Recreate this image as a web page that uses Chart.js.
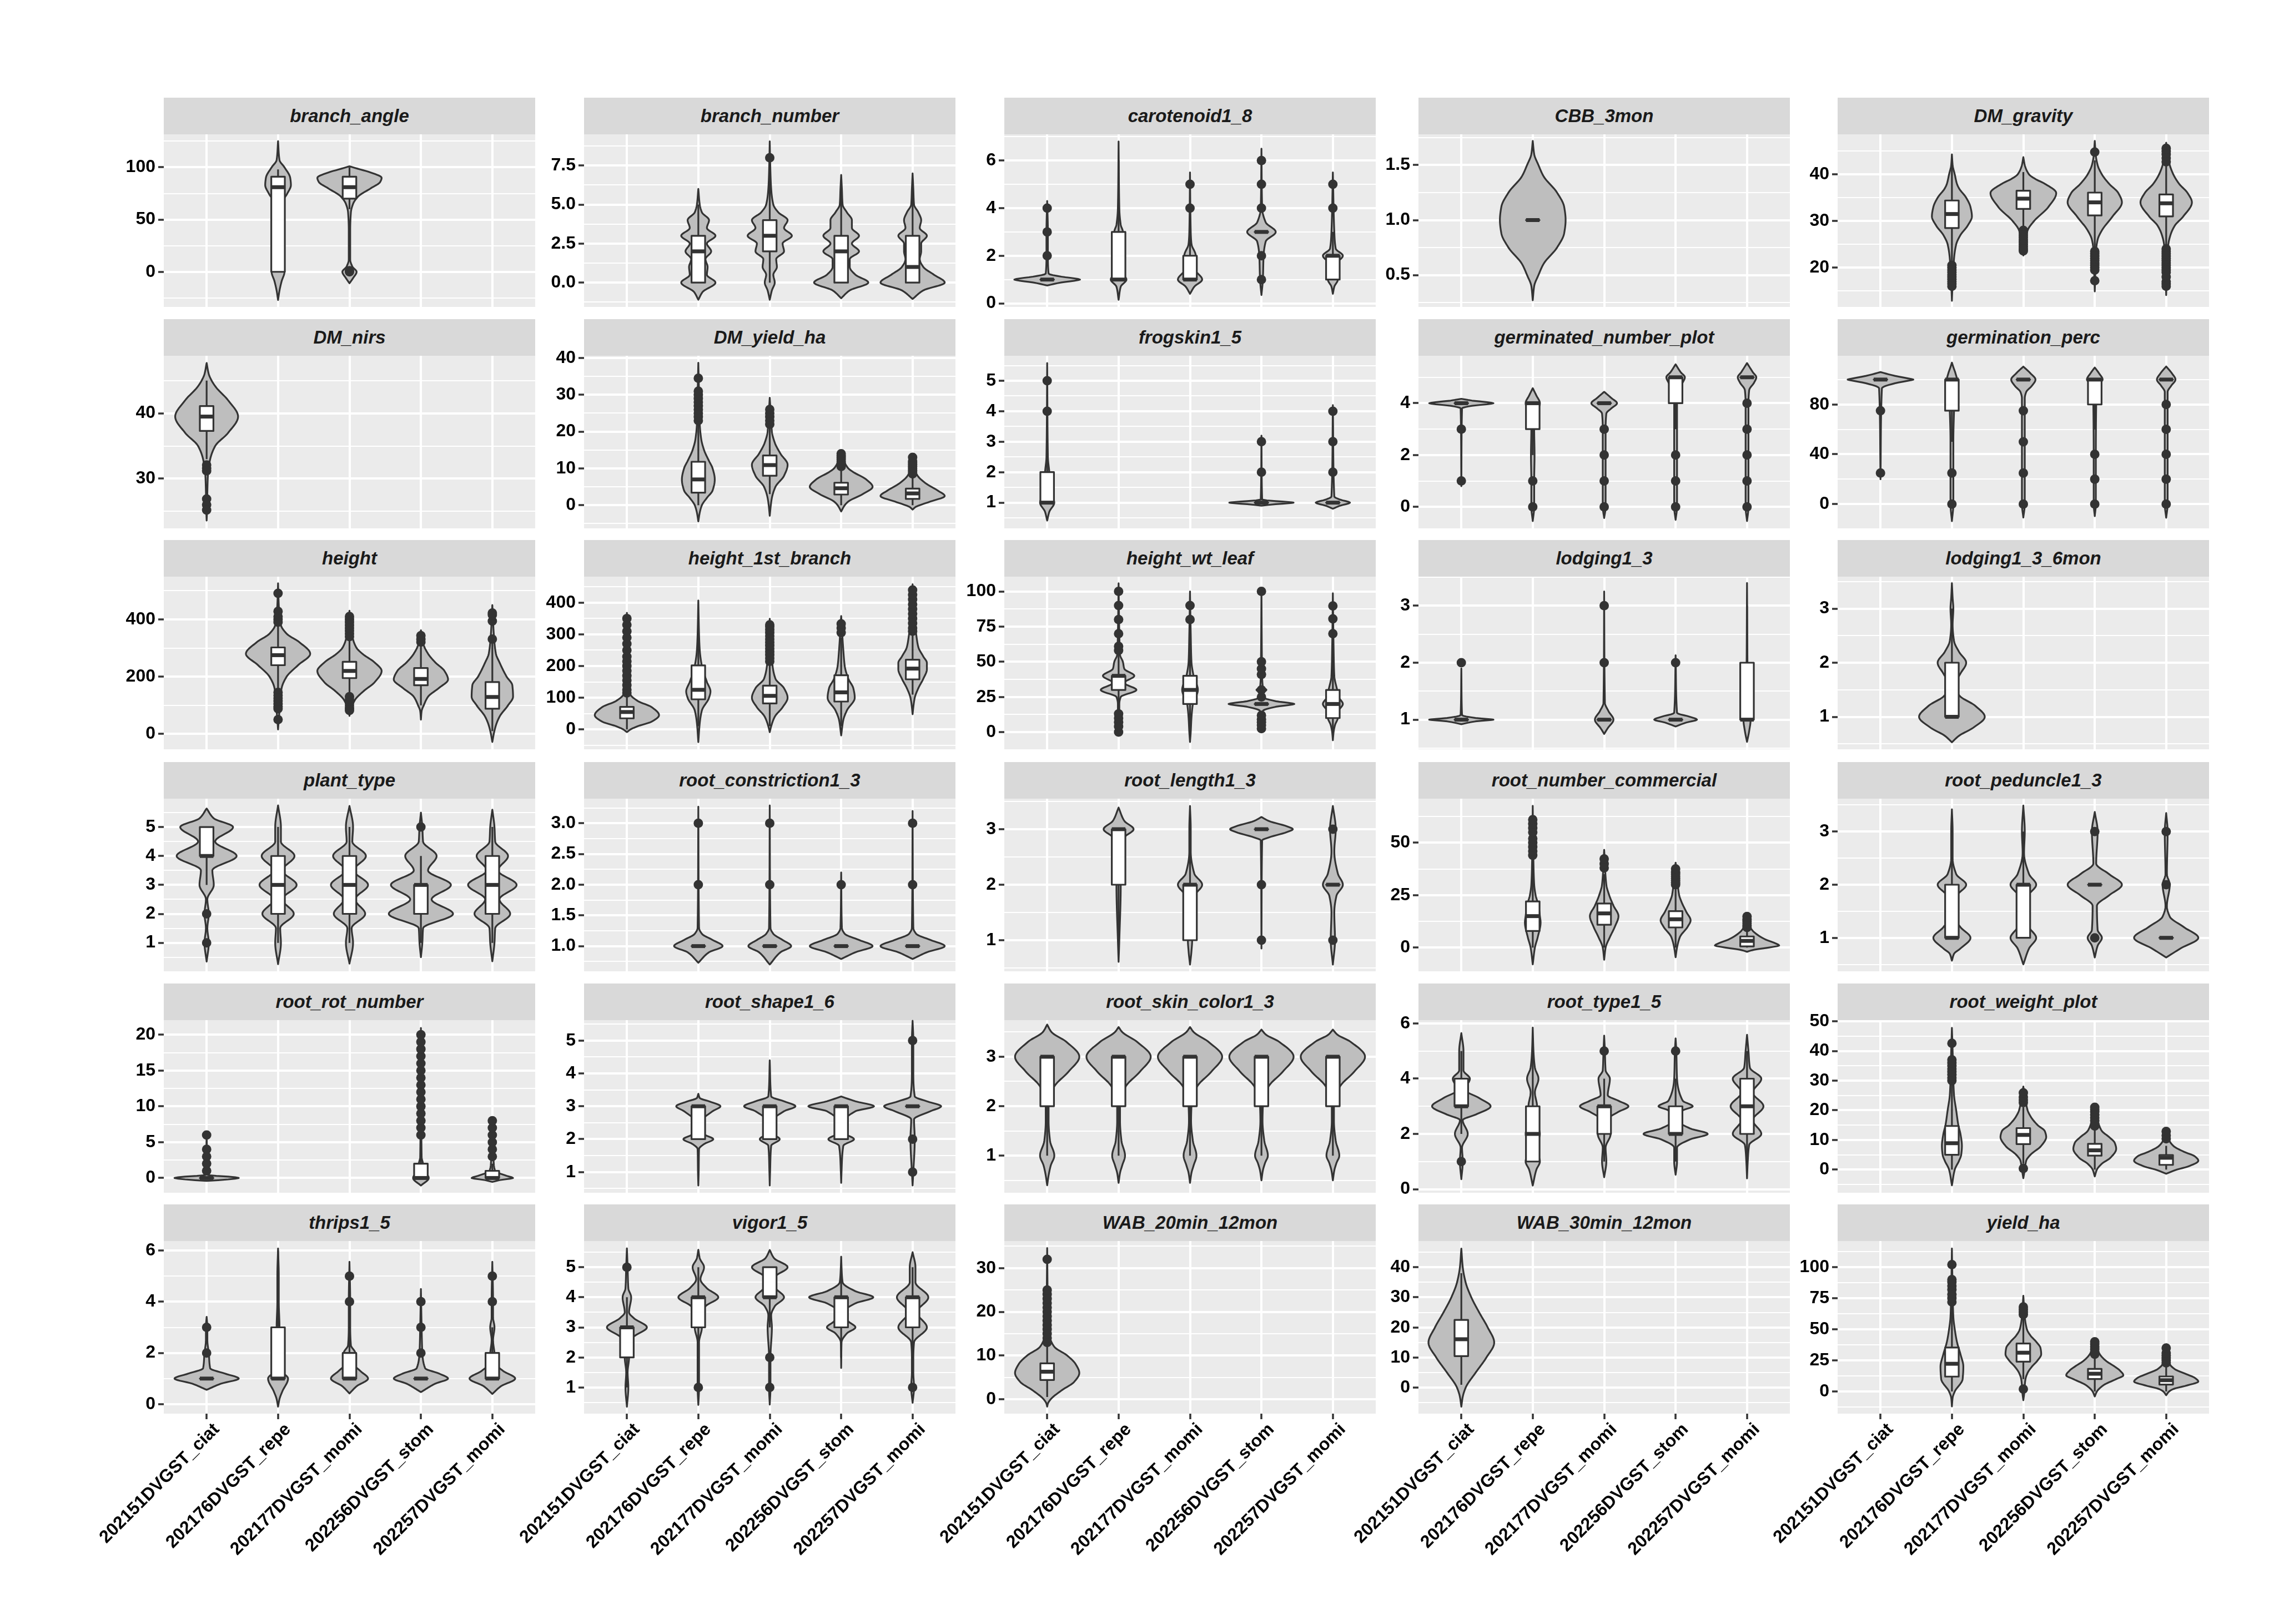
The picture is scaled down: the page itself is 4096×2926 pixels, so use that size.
<!DOCTYPE html>
<html><head><meta charset="utf-8">
<script src="https://cdn.jsdelivr.net/npm/chart.js@4.4.1/dist/chart.umd.min.js"></script>
<style>
html,body{margin:0;padding:0;background:#fff;}
#fig{position:relative;width:4096px;height:2926px;overflow:hidden;background:#fff;}
.strip{position:absolute;background:#D9D9D9;color:#1A1A1A;font:italic bold 33px "Liberation Sans",Arial,sans-serif;display:flex;align-items:center;justify-content:center;white-space:nowrap;}
canvas{position:absolute;}
</style></head><body><div id="fig"></div>
<script>
const categories = ["202151DVGST_ciat","202176DVGST_repe","202177DVGST_momi","202256DVGST_stom","202257DVGST_momi"];
const traits = ["branch_angle","branch_number","carotenoid1_8","CBB_3mon","DM_gravity",
 "DM_nirs","DM_yield_ha","frogskin1_5","germinated_number_plot","germination_perc",
 "height","height_1st_branch","height_wt_leaf","lodging1_3","lodging1_3_6mon",
 "plant_type","root_constriction1_3","root_length1_3","root_number_commercial","root_peduncle1_3",
 "root_rot_number","root_shape1_6","root_skin_color1_3","root_type1_5","root_weight_plot",
 "thrips1_5","vigor1_5","WAB_20min_12mon","WAB_30min_12mon","yield_ha"];
const yLimits = [[-33.6,131.6],[-1.56,9.5],[-0.15,7.1],[0.21,1.78],[11.57,48.6],
 [22.4,48.8],[-6.3,40.6],[0.155,5.82],[-0.83,5.83],[-19.5,119.1],
 [-53.5,549],[-62.6,482],[-12.2,110.5],[0.48,3.51],[0.4,3.59],
 [0.015,5.98],[0.59,3.4],[0.44,3.55],[-11.3,71],[0.37,3.62],
 [-2.06,22.04],[0.37,5.62],[0.25,3.74],[-0.13,6.12],[-7.8,50.4],
 [-0.37,6.37],[0.13,5.87],[-3.3,36.2],[-8.6,48.7],[-17.8,121]];
const yTicks = [[0,50,100],[0,2.5,5,7.5],[0,2,4,6],[0.5,1,1.5],[20,30,40],
 [30,40],[0,10,20,30,40],[1,2,3,4,5],[0,2,4],[0,40,80],
 [0,200,400],[0,100,200,300,400],[0,25,50,75,100],[1,2,3],[1,2,3],
 [1,2,3,4,5],[1,1.5,2,2.5,3],[1,2,3],[0,25,50],[1,2,3],
 [0,5,10,15,20],[1,2,3,4,5],[1,2,3],[0,2,4,6],[0,10,20,30,40,50],
 [0,2,4,6],[1,2,3,4,5],[0,10,20,30],[0,10,20,30,40],[0,25,50,75,100]];
const yTickLabels = [["0","50","100"],["0.0","2.5","5.0","7.5"],["0","2","4","6"],["0.5","1.0","1.5"],["20","30","40"],
 ["30","40"],["0","10","20","30","40"],["1","2","3","4","5"],["0","2","4"],["0","40","80"],
 ["0","200","400"],["0","100","200","300","400"],["0","25","50","75","100"],["1","2","3"],["1","2","3"],
 ["1","2","3","4","5"],["1.0","1.5","2.0","2.5","3.0"],["1","2","3"],["0","25","50"],["1","2","3"],
 ["0","5","10","15","20"],["1","2","3","4","5"],["1","2","3"],["0","2","4","6"],["0","10","20","30","40","50"],
 ["0","2","4","6"],["1","2","3","4","5"],["0","10","20","30"],["0","10","20","30","40"],["0","25","50","75","100"]];

// violin profiles: [value, half-width in category units], bottom to top
const violins = [
 [null,
  [[-27,0],[-18,0.02],[-9,0.05],[0,0.09],[8,0.05],[20,0.025],[35,0.02],[51,0.03],[68,0.07],[75,0.13],[83,0.18],[90,0.17],[100,0.09],[107,0.02],[125,0]],
  [[-11,0],[-6,0.05],[0,0.1],[5,0.04],[12,0.01],[40,0.01],[57,0.02],[65,0.05],[72,0.12],[80,0.3],[86,0.43],[90,0.45],[95,0.3],[98,0.15],[101,0]],
  null,null],
 [null,
  [[-1.1,0],[-0.6,0.06],[0,0.24],[0.5,0.12],[1,0.13],[1.5,0.1],[2,0.18],[2.5,0.12],[3,0.24],[3.5,0.12],[4,0.15],[4.5,0.05],[5,0.02],[6,0]],
  [[-1.1,0],[-0.5,0.03],[0,0.07],[0.5,0.05],[1,0.1],[1.5,0.09],[2,0.2],[2.5,0.18],[3,0.31],[3.5,0.2],[4,0.25],[4.5,0.12],[5,0.05],[6,0.02],[7,0.01],[9.05,0]],
  [[-1,0],[-0.5,0.12],[0,0.38],[0.5,0.2],[1,0.12],[1.5,0.12],[2,0.25],[2.5,0.15],[3,0.25],[3.5,0.15],[4,0.15],[4.5,0.08],[5,0.02],[6,0.01],[6.9,0]],
  [[-1.05,0],[-0.5,0.15],[0,0.45],[0.5,0.3],[1,0.15],[1.5,0.1],[2,0.12],[2.5,0.12],[3,0.2],[3.5,0.1],[4,0.12],[4.5,0.08],[5,0.02],[6,0.01],[7,0]]],
 [[[0.75,0],[0.88,0.2],[0.95,0.38],[1,0.46],[1.05,0.38],[1.12,0.2],[1.25,0.02],[2,0.01],[3,0.01],[4.3,0]],
  [[0.15,0],[0.7,0.03],[1,0.11],[1.3,0.04],[2,0.01],[2.7,0.03],[3,0.06],[3.3,0.03],[4,0.01],[6.8,0]],
  [[0.4,0],[0.7,0.06],[1,0.17],[1.5,0.05],[2,0.08],[2.5,0.02],[3,0.01],[5.5,0]],
  [[0.35,0],[1,0.02],[2,0.03],[2.6,0.06],[3,0.2],[3.4,0.06],[4,0.01],[6.5,0]],
  [[0.4,0],[0.7,0.02],[1,0.07],[1.4,0.04],[1.7,0.06],[2,0.14],[2.3,0.04],[3,0.02],[5.5,0]]],
 [null,
  [[0.27,0],[0.4,0.02],[0.5,0.08],[0.6,0.15],[0.75,0.34],[0.88,0.44],[1,0.46],[1.12,0.44],[1.25,0.34],[1.4,0.15],[1.5,0.08],[1.6,0.02],[1.72,0]],
  null,null,null],
 [null,
  [[12.9,0],[15,0.005],[18,0.015],[22,0.03],[25,0.06],[27,0.12],[29,0.22],[31,0.28],[33,0.26],[35,0.2],[37,0.1],[38,0.07],[40,0.04],[42,0.01],[44.3,0]],
  [[22.6,0],[24,0.01],[26,0.03],[28,0.06],[30,0.15],[33,0.35],[36,0.46],[38,0.3],[39,0.17],[40,0.08],[42,0.02],[43.7,0]],
  [[14.9,0],[20,0.01],[24,0.02],[26,0.04],[28,0.1],[31,0.25],[34,0.38],[36,0.33],[38,0.2],[40,0.1],[42,0.04],[44,0.015],[47.2,0]],
  [[14.1,0],[20,0.01],[25,0.03],[27,0.06],[29,0.12],[31,0.24],[34,0.36],[36,0.3],[38,0.18],[40,0.1],[42,0.05],[44,0.02],[46.8,0]]],
 [[[23.6,0],[25,0.005],[28,0.01],[31,0.02],[33,0.05],[35,0.12],[37,0.3],[39.5,0.44],[42,0.3],[44,0.13],[45,0.07],[46,0.03],[47.7,0]],
  null,null,null,null],
 [null,
  [[-4.4,0],[-2,0.02],[0,0.05],[2,0.12],[4,0.2],[7,0.23],[10,0.2],[12,0.15],[15,0.08],[18,0.04],[22,0.02],[25,0.015],[30,0.01],[38.7,0]],
  [[-2.9,0],[0,0.015],[2,0.03],[5,0.08],[8,0.2],[11,0.25],[14,0.15],[17,0.07],[20,0.03],[23,0.02],[29.2,0]],
  [[-1.7,0],[0,0.05],[1,0.1],[3,0.3],[5,0.44],[7,0.35],[9,0.17],[10,0.1],[12,0.04],[14.8,0]],
  [[-1.2,0],[-0.5,0.04],[0,0.1],[1,0.25],[2.5,0.45],[4,0.35],[6,0.18],[8,0.07],[10,0.02],[13.5,0]]],
 [[[0.41,0],[0.7,0.03],[1,0.1],[1.3,0.05],[1.6,0.04],[2,0.03],[2.5,0.01],[5.58,0]],
  null,null,
  [[0.9,0],[0.95,0.2],[0.98,0.38],[1,0.45],[1.02,0.38],[1.05,0.2],[1.1,0.01],[3.2,0]],
  [[0.8,0],[0.9,0.1],[1,0.24],[1.1,0.1],[1.2,0.02],[4.2,0]]],
 [[[0.8,0],[3.8,0.01],[3.9,0.15],[3.96,0.36],[4,0.45],[4.04,0.36],[4.1,0.15],[4.17,0]],
  [[-0.55,0],[0,0.02],[1,0.02],[2,0.025],[3,0.02],[3.5,0.03],[4,0.1],[4.3,0.05],[4.58,0]],
  [[-0.43,0],[0,0.02],[1,0.02],[2,0.02],[3,0.02],[3.6,0.03],[3.8,0.1],[4,0.18],[4.2,0.1],[4.44,0]],
  [[-0.5,0],[0,0.02],[1,0.02],[2,0.02],[3,0.02],[4,0.02],[4.5,0.04],[4.8,0.1],[5,0.13],[5.2,0.07],[5.5,0]],
  [[-0.55,0],[0,0.02],[1,0.02],[2,0.02],[3,0.02],[4,0.02],[4.5,0.03],[4.8,0.1],[5,0.13],[5.2,0.08],[5.55,0]]],
 [[[20,0],[93,0.02],[97,0.2],[99,0.38],[100,0.46],[101,0.38],[103,0.2],[106,0]],
  [[-13.7,0],[0,0.02],[25,0.02],[50,0.02],[75,0.03],[95,0.05],[100,0.07],[105,0.05],[110,0.02],[113.6,0]],
  [[-10.8,0],[0,0.02],[50,0.02],[85,0.02],[90,0.04],[95,0.12],[100,0.17],[105,0.1],[110.4,0]],
  [[-9.7,0],[0,0.015],[40,0.015],[80,0.02],[95,0.03],[100,0.11],[105,0.06],[109.7,0]],
  [[-11,0],[0,0.02],[60,0.02],[90,0.02],[95,0.07],[100,0.13],[105,0.08],[110.5,0]]],
 [null,
  [[15.7,0],[50,0.01],[80,0.02],[120,0.03],[160,0.05],[200,0.12],[240,0.28],[280,0.45],[320,0.3],[350,0.12],[380,0.04],[420,0.02],[450,0.01],[526,0]],
  [[63,0],[80,0.01],[100,0.04],[120,0.08],[150,0.2],[180,0.35],[220,0.45],[250,0.35],[280,0.18],[300,0.1],[330,0.05],[370,0.02],[430,0]],
  [[50,0],[80,0.01],[100,0.04],[130,0.1],[160,0.25],[190,0.38],[220,0.33],[250,0.2],[280,0.1],[310,0.04],[362,0]],
  [[-28,0],[0,0.02],[30,0.05],[60,0.1],[100,0.22],[130,0.29],[170,0.28],[200,0.2],[250,0.1],[280,0.05],[350,0.02],[450,0]]],
 [[[-8.5,0],[0,0.05],[10,0.15],[25,0.35],[45,0.45],[70,0.35],[90,0.15],[110,0.05],[140,0.02],[200,0.01],[368,0]],
  [[-40,0],[20,0.02],[60,0.05],[100,0.15],[120,0.17],[150,0.12],[200,0.05],[250,0.02],[300,0.01],[407,0]],
  [[-8.5,0],[10,0.02],[40,0.07],[70,0.18],[100,0.25],[130,0.2],[160,0.08],[200,0.04],[260,0.02],[349,0]],
  [[-19,0],[30,0.03],[60,0.08],[100,0.19],[130,0.17],[160,0.1],[200,0.05],[250,0.03],[358,0]],
  [[48,0],[70,0.01],[100,0.03],[130,0.08],[160,0.15],[190,0.2],[210,0.2],[230,0.15],[260,0.08],[300,0.05],[350,0.02],[458,0]]],
 [null,
  [[-0.6,0],[10,0.01],[20,0.01],[25,0.03],[30,0.25],[35,0.08],[40,0.22],[45,0.08],[50,0.06],[55,0.02],[70,0.01],[105.8,0]],
  [[-7,0],[0,0.01],[10,0.02],[20,0.04],[30,0.11],[40,0.05],[50,0.02],[70,0.01],[100,0]],
  [[0,0],[10,0.01],[15,0.02],[18,0.2],[19.2,0.38],[20,0.46],[20.8,0.38],[22,0.2],[25,0.02],[28,0.02],[30,0.07],[32,0.02],[40,0.01],[100,0]],
  [[-5.8,0],[0,0.01],[5,0.03],[10,0.07],[15,0.08],[20,0.14],[25,0.08],[30,0.06],[40,0.02],[60,0.01],[98.7,0]]],
 [[[0.92,0],[0.97,0.2],[0.99,0.38],[1,0.45],[1.01,0.38],[1.03,0.2],[1.08,0.01],[1.9,0]],
  null,
  [[0.75,0],[0.85,0.05],[1,0.13],[1.15,0.06],[1.3,0.01],[3.25,0]],
  [[0.88,0],[0.95,0.15],[1,0.3],[1.05,0.2],[1.12,0.02],[2.13,0]],
  [[0.61,0],[0.8,0.03],[1,0.05],[1.1,0.03],[1.5,0.01],[3.4,0]]],
 [null,
  [[0.53,0],[0.65,0.1],[0.8,0.3],[1,0.46],[1.2,0.33],[1.4,0.1],[1.6,0.04],[1.8,0.12],[2,0.2],[2.2,0.1],[2.4,0.03],[2.7,0.01],[3,0.02],[3.2,0.01],[3.47,0]],
  null,null,null],
 [[[0.35,0],[1,0.03],[1.5,0.01],[2,0.03],[2.5,0.01],[3,0.1],[3.5,0.08],[4,0.42],[4.5,0.12],[5,0.37],[5.3,0.1],[5.64,0]],
  [[0.26,0],[1,0.04],[1.5,0.03],[2,0.22],[2.5,0.06],[3,0.26],[3.5,0.06],[4,0.23],[4.5,0.04],[5,0.04],[5.75,0]],
  [[0.28,0],[1,0.05],[1.5,0.03],[2,0.22],[2.5,0.08],[3,0.26],[3.5,0.06],[4,0.23],[4.5,0.04],[5,0.05],[5.73,0]],
  [[0.5,0],[1,0.02],[1.5,0.03],[2,0.45],[2.5,0.15],[3,0.42],[3.5,0.1],[4,0.22],[4.5,0.03],[5,0.02],[5.5,0]],
  [[0.36,0],[1,0.03],[1.5,0.04],[2,0.25],[2.5,0.1],[3,0.34],[3.5,0.08],[4,0.22],[4.5,0.04],[5,0.03],[5.6,0]]],
 [null,
  [[0.73,0],[0.9,0.15],[1,0.34],[1.1,0.2],[1.2,0.05],[1.3,0.01],[3.27,0]],
  [[0.7,0],[0.9,0.15],[1,0.3],[1.1,0.18],[1.2,0.05],[1.3,0.01],[3.29,0]],
  [[0.79,0],[0.9,0.2],[1,0.44],[1.1,0.25],[1.2,0.05],[1.3,0.01],[2.2,0]],
  [[0.79,0],[0.9,0.2],[1,0.45],[1.1,0.25],[1.2,0.05],[1.3,0.01],[3.2,0]]],
 [null,
  [[0.61,0],[1,0.01],[2,0.03],[2.5,0.02],[2.85,0.08],[3,0.21],[3.15,0.08],[3.39,0]],
  [[0.56,0],[0.8,0.02],[1,0.03],[1.5,0.01],[1.8,0.06],[2,0.17],[2.2,0.06],[2.6,0.01],[3,0.01],[3.42,0]],
  [[0.85,0],[2.8,0.01],[2.85,0.1],[2.95,0.36],[3,0.44],[3.05,0.36],[3.15,0.1],[3.22,0]],
  [[0.56,0],[1,0.03],[1.5,0.02],[1.8,0.05],[2,0.14],[2.2,0.07],[2.6,0.02],[3,0.04],[3.42,0]]],
 [null,
  [[-8,0],[0,0.03],[5,0.07],[12,0.11],[15,0.1],[20,0.08],[25,0.04],[30,0.02],[40,0.01],[67.6,0]],
  [[-5.8,0],[0,0.02],[5,0.08],[10,0.15],[15,0.2],[20,0.13],[25,0.07],[30,0.03],[46.6,0]],
  [[-4.6,0],[0,0.02],[5,0.06],[10,0.17],[13,0.21],[17,0.15],[22,0.08],[25,0.05],[30,0.03],[40.5,0]],
  [[-2,0],[-1,0.1],[0,0.3],[1,0.45],[2,0.4],[4,0.25],[6,0.15],[8,0.08],[10,0.04],[16,0]]],
 [null,
  [[0.57,0],[0.7,0.03],[0.8,0.12],[1,0.26],[1.2,0.12],[1.4,0.02],[1.6,0.01],[1.8,0.07],[2,0.2],[2.2,0.06],[2.5,0.01],[3,0.01],[3.42,0]],
  [[0.5,0],[0.8,0.08],[1,0.18],[1.2,0.08],[1.5,0.01],[1.8,0.07],[2,0.18],[2.2,0.08],[2.6,0.01],[3,0.02],[3.49,0]],
  [[0.63,0],[0.85,0.04],[1,0.1],[1.15,0.04],[1.6,0.03],[1.8,0.2],[2,0.38],[2.2,0.2],[2.4,0.02],[3,0.04],[3.37,0]],
  [[0.63,0],[0.8,0.2],[1,0.45],[1.2,0.25],[1.4,0.05],[1.6,0.01],[2,0.05],[2.2,0.01],[3,0.02],[3.35,0]]],
 [[[-0.4,0],[-0.2,0.3],[0,0.45],[0.2,0.3],[0.4,0.02],[1,0.01],[6.5,0]],
  null,null,
  [[-1.06,0],[0,0.11],[1,0.05],[2,0.03],[3,0.01],[20.95,0]],
  [[-0.55,0],[-0.3,0.1],[0,0.29],[0.3,0.2],[1,0.04],[2,0.02],[8.5,0]]],
 [null,
  [[0.59,0],[1,0.005],[1.7,0.01],[1.85,0.08],[2,0.21],[2.15,0.08],[2.5,0.03],[2.85,0.2],[3,0.31],[3.15,0.15],[3.25,0.02],[3.38,0]],
  [[0.59,0],[1,0.005],[1.8,0.02],[2,0.14],[2.2,0.02],[2.5,0.02],[2.85,0.2],[3,0.36],[3.15,0.2],[3.3,0.02],[4.4,0]],
  [[0.67,0],[1,0.005],[1.8,0.03],[2,0.18],[2.2,0.03],[2.5,0.03],[2.85,0.2],[3,0.46],[3.15,0.2],[3.3,0]],
  [[0.59,0],[1,0.01],[2,0.03],[2.6,0.02],[2.85,0.25],[3,0.4],[3.15,0.2],[3.3,0.03],[4,0.01],[5,0.01],[5.6,0]]],
 [[[0.4,0],[0.6,0.02],[0.8,0.05],[1,0.1],[1.3,0.04],[1.7,0.02],[2,0.02],[2.2,0.04],[2.4,0.1],[2.7,0.3],[3,0.45],[3.3,0.27],[3.5,0.06],[3.65,0]],
  [[0.45,0],[0.65,0.02],[0.8,0.05],[1,0.09],[1.3,0.04],[1.7,0.02],[2,0.02],[2.2,0.04],[2.4,0.1],[2.7,0.3],[3,0.45],[3.3,0.26],[3.5,0.05],[3.6,0]],
  [[0.45,0],[0.65,0.02],[0.8,0.05],[1,0.09],[1.3,0.04],[1.7,0.015],[2,0.02],[2.2,0.04],[2.4,0.1],[2.7,0.3],[3,0.45],[3.3,0.26],[3.5,0.05],[3.6,0]],
  [[0.5,0],[0.7,0.02],[0.85,0.05],[1,0.09],[1.3,0.04],[1.7,0.015],[2,0.02],[2.2,0.04],[2.4,0.1],[2.7,0.3],[3,0.45],[3.3,0.25],[3.45,0.06],[3.55,0]],
  [[0.5,0],[0.7,0.02],[0.85,0.05],[1,0.09],[1.3,0.04],[1.7,0.015],[2,0.015],[2.2,0.04],[2.4,0.1],[2.7,0.3],[3,0.45],[3.3,0.25],[3.45,0.06],[3.55,0]]],
 [[[0.36,0],[1,0.02],[1.5,0.01],[2,0.09],[2.5,0.02],[2.7,0.2],[3,0.41],[3.3,0.25],[3.6,0.05],[4,0.12],[4.3,0.03],[5,0.03],[5.65,0]],
  [[0.13,0],[0.7,0.05],[1,0.1],[1.5,0.04],[2,0.1],[2.5,0.04],[3,0.06],[3.5,0.03],[4,0.08],[4.4,0.03],[5,0.01],[5.85,0]],
  [[0.43,0],[1,0.03],[1.5,0.02],[2,0.09],[2.5,0.04],[2.8,0.2],[3,0.34],[3.2,0.2],[3.4,0.05],[4,0.08],[4.3,0.02],[5,0.01],[5.56,0]],
  [[0.52,0],[1,0.02],[1.5,0.02],[1.8,0.2],[2,0.45],[2.2,0.2],[2.5,0.03],[2.85,0.1],[3,0.24],[3.2,0.1],[4,0.02],[5,0.01],[5.46,0]],
  [[0.39,0],[1,0.01],[1.6,0.03],[2,0.2],[2.5,0.08],[3,0.23],[3.5,0.08],[4,0.2],[4.4,0.04],[5,0.02],[5.59,0]]],
 [null,
  [[-5.3,0],[0,0.04],[3,0.1],[5,0.13],[8,0.14],[12,0.12],[15,0.09],[20,0.06],[25,0.03],[30,0.02],[40,0.01],[47.8,0]],
  [[-2.9,0],[0,0.02],[3,0.04],[5,0.1],[8,0.25],[11,0.32],[13,0.3],[15,0.2],[18,0.1],[20,0.06],[25,0.02],[28,0]],
  [[-2.3,0],[0,0.03],[2,0.1],[4,0.22],[7,0.3],[9,0.28],[11,0.2],[13,0.1],[15,0.06],[18,0.02],[22,0]],
  [[-1.4,0],[0,0.15],[1,0.3],[3,0.45],[4.5,0.4],[6,0.25],[8,0.1],[10,0.04],[14,0]]],
 [[[0.56,0],[0.8,0.2],[1,0.45],[1.2,0.25],[1.4,0.05],[2,0.03],[2.5,0.01],[3,0.01],[3.41,0]],
  [[-0.1,0],[0.2,0.02],[0.5,0.06],[1,0.14],[1.3,0.05],[2,0.02],[3,0.02],[4,0.01],[5,0.01],[6.08,0]],
  [[0.42,0],[0.7,0.1],[1,0.26],[1.3,0.15],[1.6,0.05],[2,0.08],[2.3,0.02],[3,0.01],[4,0.01],[5.56,0]],
  [[0.47,0],[0.8,0.2],[1,0.38],[1.2,0.25],[1.4,0.06],[2,0.02],[3,0.01],[4.5,0]],
  [[0.4,0],[0.7,0.12],[1,0.32],[1.3,0.15],[1.6,0.04],[2,0.03],[2.5,0.01],[3,0.03],[3.4,0.01],[4,0.01],[5.56,0]]],
 [[[0.36,0],[1,0.02],[1.5,0.01],[2,0.03],[2.5,0.02],[2.7,0.1],[3,0.28],[3.3,0.1],[3.5,0.03],[4,0.06],[4.3,0.02],[5,0.01],[5.63,0]],
  [[0.42,0],[1,0.01],[2,0.01],[2.5,0.01],[3,0.05],[3.4,0.03],[3.7,0.1],[4,0.28],[4.3,0.12],[4.6,0.03],[5,0.08],[5.3,0.02],[5.58,0]],
  [[0.43,0],[1,0.01],[2,0.01],[3,0.03],[3.4,0.02],[3.7,0.07],[4,0.2],[4.3,0.08],[4.5,0.03],[4.7,0.08],[5,0.25],[5.3,0.06],[5.57,0]],
  [[1.65,0],[2.5,0.005],[2.8,0.08],[3,0.2],[3.2,0.1],[3.5,0.03],[3.8,0.2],[4,0.45],[4.2,0.2],[4.5,0.02],[5,0.005],[5.35,0]],
  [[0.49,0],[1,0.02],[1.5,0.01],[2,0.01],[2.5,0.02],[3,0.2],[3.5,0.06],[4,0.22],[4.5,0.04],[5,0.04],[5.5,0]]],
 [[[-1.7,0],[-1,0.01],[0,0.05],[2,0.2],[4,0.38],[6,0.45],[8,0.4],[10,0.28],[12,0.1],[14,0.04],[16,0.02],[20,0.01],[34.6,0]],
  null,null,null,null],
 [[[-6.3,0],[-3,0.02],[0,0.06],[5,0.2],[10,0.35],[15,0.46],[20,0.37],[25,0.25],[30,0.14],[35,0.06],[40,0.02],[46.2,0]],
  null,null,null,null],
 [null,
  [[-12,0],[-5,0.01],[0,0.04],[10,0.15],[20,0.16],[30,0.12],[40,0.07],[50,0.04],[60,0.02],[80,0.01],[115,0]],
  [[-7,0],[0,0.015],[5,0.02],[10,0.03],[15,0.06],[20,0.12],[25,0.2],[30,0.25],[35,0.24],[40,0.18],[45,0.1],[50,0.05],[60,0.02],[77,0]],
  [[-4,0],[0,0.03],[5,0.12],[10,0.3],[13,0.4],[17,0.35],[20,0.28],[25,0.15],[30,0.07],[35,0.03],[42,0]],
  [[-3,0],[0,0.04],[2,0.1],[5,0.3],[8,0.45],[11,0.4],[14,0.28],[18,0.12],[22,0.05],[30,0.01],[38,0]]]
];

// box stats: [lower whisker, q1, median, q3, upper whisker]
const boxStats = [
 [null,[0,0,81,91,98],[60,70,81,91,100],null,null],
 [null,[0,0,2,3,5],[0,2,3,4,7],[0,0,2,3,6],[0,0,1,3,6]],
 [[1,1,1,1,1],[1,1,1,3,6],[1,1,1,2,3],[3,3,3,3,3],[1,1,2,2,3]],
 [null,[1,1,1,1,1],null,null,null],
 [null,[21,28.5,31.5,34.4,43],[28.5,32.6,34.8,36.5,40.5],[24,31.2,34,36.1,43],[24,31,33.8,35.7,42]],
 [[33,37.3,39.5,41.1,45],null,null,null,null],
 [null,[0,3.4,7,11.8,23],[3,8,10.9,13.5,21],[0,2.9,4.6,6.1,10],[0,1.7,3.2,4.5,8]],
 [[1,1,1,2,3],null,null,[1,1,1,1,1],[1,1,1,1,1]],
 [[4,4,4,4,4],[2,3,4,4,4],[4,4,4,4,4],[3,4,5,5,5],[5,5,5,5,5]],
 [[100,100,100,100,100],[50,75,100,100,100],[100,100,100,100,100],[60,80,100,100,100],[100,100,100,100,100]],
 [null,[150,240,275,302,380],[140,195,220,252,335],[100,170,192,230,310],[10,88,129,181,320]],
 [[0,35,55,71,105],[10,95,125,202,355],[10,82,106,138,205],[10,88,117,171,290],[110,158,192,220,300]],
 [null,[15,30,40,40,55],[0,20,30,40,70],[20,20,20,20,20],[0,10,20,30,55]],
 [[1,1,1,1,1],null,[1,1,1,1,1],[1,1,1,1,1],[1,1,1,2,3]],
 [null,[1,1,1,2,3],null,null,null],
 [[3,4,4,5,5],[1,2,3,4,5],[1,2,3,4,5],[1,2,3,3,4],[1,2,3,4,5]],
 [null,[1,1,1,1,1],[1,1,1,1,1],[1,1,1,1,1],[1,1,1,1,1]],
 [null,[1,2,3,3,3],[1,1,2,2,3],[3,3,3,3,3],[2,2,2,2,2]],
 [null,[0,7.9,15,22,43],[0,10.9,16.3,21,35],[0,9.6,13.5,17.4,29],[0,0.6,3.2,5.3,9]],
 [null,[1,1,1,2,3],[1,1,2,2,3],[2,2,2,2,2],[1,1,1,1,1]],
 [[0,0,0,0,0],null,null,[0,0,0,2,5],[0,0,0,1,2]],
 [null,[2,2,3,3,3],[2,2,3,3,3],[2,2,3,3,3],[3,3,3,3,3]],
 [[1,2,3,3,3],[1,2,3,3,3],[1,2,3,3,3],[1,2,3,3,3],[1,2,3,3,3]],
 [[2,3,3,4,5],[1,1,2,3,5],[1,2,3,3,4],[1,2,2,3,4],[1,2,3,4,5]],
 [null,[0,5,8.9,14.7,29],[2,8.6,11.7,14,21],[0,4.7,6.5,8.7,14],[0,1.6,4,4.9,8]],
 [[1,1,1,1,1],[1,1,1,3,6],[1,1,1,2,3],[1,1,1,1,1],[1,1,1,2,3]],
 [[1,2,3,3,4],[2,3,4,4,5],[3,4,4,5,5],[2,3,4,4,5],[2,3,4,4,5]],
 [[0.5,4.4,6.3,8.2,13],null,null,null,null],
 [[1,10.5,16.1,22.5,38],null,null,null,null],
 [null,[0,12,22.3,35.4,70],[10,24,31.2,38.6,60],[0,10,14.3,18.2,30],[0,5.6,9.1,12.1,21]]
];

const outliers = [
 [[],[],[0,1],[],[]],
 [[],[],[8],[],[]],
 [[2,3,4],[],[4,5],[1,2,4,5,6],[4,5]],
 [[],[],[],[],[]],
 [[],[20.5,20,19.5,19,18.5,18,17.5,17,16.5,16],[28,27.5,27,26.5,26,25.5,25,24.5,24,23.6],[44.8,23.5,23,22.5,22,21.5,21,20.5,20,19.5,17.2],[45.6,45,44.3,43.5,42.7,24,23.5,23,22.5,22,21.5,21,20.5,20,19.5,19,18,17,16.5,16]],
 [[32.1,31.6,31.2,26.9,26,25.2],[],[],[],[]],
 [[],[23,24,25,26,27,28,29,30,31,34.5],[22,23,24,25,26],[10.5,11,11.5,12,12.5,13,13.5,14],[8.5,9,9.5,10,10.5,11,11.5,12,13]],
 [[4,5],[],[],[2,3],[2,3,4]],
 [[3,1],[0,1],[0,1,2,3],[0,1,2],[0,1,2,3,4]],
 [[75,25],[0,25],[0,25,50,75],[0,20,40],[0,20,40,60,80]],
 [[],[491,428,410,400,390,145,135,125,115,105,95,88,50],[340,350,360,370,380,390,400,410,130,120,110,100,90,82],[321,330,343],[331,394,416,422]],
 [[115,125,140,155,170,185,200,215,230,250,270,290,310,330,350],[],[215,225,235,245,255,265,275,285,295,305,315,325,330],[305,320,333],[310,320,335,350,365,380,395,410,425,440]],
 [[],[0,4,7,10,13,58,61,70,80,90,100],[80,90],[2.5,5,7,9,12,25,30,41,45,50,100],[70,80.5,89.7]],
 [[2],[],[2,3],[2],[]],
 [[],[],[],[],[]],
 [[2,1],[],[],[5],[]],
 [[],[2,3],[2,3],[2],[2,3]],
 [[],[],[],[1,2],[1,3]],
 [[],[44,46,48,50,52,55,57,59,61],[38,40,42.3],[30,31,32,33,34,35,36,37.5],[9.6,10.5,11.5,12.5,13.5,14.8]],
 [[],[],[],[1,3],[2,3]],
 [[1,2,3,4,6],[],[],[6,7,8,9,10,11,12,13,14,15,16,17,18,19,20],[3,4,5,6,7,8]],
 [[],[],[],[],[1,2,5]],
 [[],[],[],[],[]],
 [[1],[],[5],[5],[]],
 [[],[30,31,32,33,34,35,36,37,42.6],[22.6,23.5,24.5,25.9,0.4],[14.7,15.5,16.5,17.5,18.5,19.5,20.3,21],[10.4,11.5,12.9]],
 [[2,3],[],[4,5],[2,3,4],[4,5]],
 [[5],[1],[2,1],[],[1]],
 [[13,14,15,16,17,18,19,20,21,22,23,24,25,32],[],[],[],[]],
 [[],[],[],[],[]],
 [[],[72,75,78,82,85,88,90,102],[62,64,66,68,2],[30,32,34,36,38,40],[23,25,27,29,31,35]]
];

// ---------- layout (output pixels) ----------
const S = 0.975;
const ROW_TOP = [180, 589.3, 998.3, 1408, 1817, 2226].map(v => Math.round(v * S));
const COL_LEFT = [303, 1079, 1855, 2621, 3395].map(v => Math.round(v * S));
const STRIP_H = Math.round(67.3 * S), PANEL_H = Math.round(319.4 * S), PANEL_W = Math.round(686 * S);
const Y_W = 260, X_H = 300, PAD = 30;
const FONT = '"Liberation Sans", Arial, Helvetica, sans-serif';
const DARK = '#333333';

function hermite(knots) {
  const n = knots.length, v = knots.map(k => k[0]), w = knots.map(k => k[1]);
  const h = [], d = [];
  for (let i = 0; i < n - 1; i++) { h.push(v[i+1] - v[i]); d.push((w[i+1] - w[i]) / h[i]); }
  const m = new Array(n).fill(0);
  m[0] = d[0]; m[n-1] = d[n-2];
  for (let i = 1; i < n - 1; i++) {
    if (d[i-1] * d[i] <= 0) m[i] = 0;
    else { const a = 2*h[i] + h[i-1], b = h[i] + 2*h[i-1]; m[i] = (a + b) / (a / d[i-1] + b / d[i]); }
  }
  return {v, w, h, m, n};
}
function hEval(H, i, t) {
  const t2 = t*t, t3 = t2*t;
  return (2*t3 - 3*t2 + 1) * H.w[i] + (t3 - 2*t2 + t) * H.h[i] * H.m[i] + (-2*t3 + 3*t2) * H.w[i+1] + (t3 - t2) * H.h[i] * H.m[i+1];
}

function drawViolin(ctx, xs, ys, c, knots) {
  const H = hermite(knots);
  const pts = [];
  for (let i = 0; i < H.n - 1; i++) {
    const py0 = ys.getPixelForValue(H.v[i]), py1 = ys.getPixelForValue(H.v[i+1]);
    const steps = Math.max(2, Math.ceil(Math.abs(py1 - py0) / 1.5));
    for (let s = 0; s < steps; s++) {
      const t = s / steps;
      pts.push([H.v[i] + t * H.h[i], Math.max(0, hEval(H, i, t))]);
    }
  }
  pts.push([H.v[H.n-1], Math.max(0, H.w[H.n-1])]);
  ctx.beginPath();
  pts.forEach((p, k) => {
    const X = xs.getPixelForValue(c + p[1]), Y = ys.getPixelForValue(p[0]);
    if (k === 0) ctx.moveTo(X, Y); else ctx.lineTo(X, Y);
  });
  for (let k = pts.length - 1; k >= 0; k--) {
    const p = pts[k];
    ctx.lineTo(xs.getPixelForValue(c - p[1]), ys.getPixelForValue(p[0]));
  }
  ctx.closePath();
  ctx.fillStyle = '#BEBEBE';
  ctx.fill();
  ctx.lineWidth = 3.2;
  ctx.strokeStyle = DARK;
  ctx.lineJoin = 'round';
  ctx.stroke();
}

function drawBox(ctx, xs, ys, c, b) {
  const cx = xs.getPixelForValue(c);
  const hw = xs.getPixelForValue(c + 0.095) - cx;
  const [lo, q1, med, q3, hi] = b.map(v => ys.getPixelForValue(v));
  ctx.strokeStyle = DARK;
  ctx.lineWidth = 3.2;
  ctx.lineCap = 'butt';
  ctx.beginPath();
  ctx.moveTo(cx, lo); ctx.lineTo(cx, q1);
  ctx.moveTo(cx, q3); ctx.lineTo(cx, hi);
  ctx.stroke();
  ctx.fillStyle = '#FFFFFF';
  ctx.fillRect(cx - hw, q3, 2*hw, q1 - q3);
  ctx.strokeRect(cx - hw, q3, 2*hw, q1 - q3);
  ctx.lineWidth = 7;
  ctx.beginPath();
  ctx.moveTo(cx - hw, med); ctx.lineTo(cx + hw, med);
  ctx.stroke();
}

const panelPlugin = {
  id: 'panel',
  beforeDraw(chart) {
    const {ctx, chartArea: a} = chart;
    ctx.save();
    ctx.fillStyle = '#EBEBEB';
    ctx.fillRect(a.left, a.top, a.right - a.left, a.bottom - a.top);
    ctx.restore();
  },
  beforeDatasetsDraw(chart, args, opts) {
    const p = opts.index;
    const {ctx} = chart, xs = chart.scales.x, ys = chart.scales.y;
    ctx.save();
    for (let c = 0; c < 5; c++) {
      if (violins[p][c]) drawViolin(ctx, xs, ys, c + 1, violins[p][c]);
      if (boxStats[p][c]) drawBox(ctx, xs, ys, c + 1, boxStats[p][c]);
    }
    ctx.restore();
  }
};

const fig = document.getElementById('fig');
traits.forEach((name, p) => {
  const r = Math.floor(p / 5), c = p % 5;
  const bottom = r === 5;
  const left = COL_LEFT[c], top = ROW_TOP[r];
  const st = document.createElement('div');
  st.className = 'strip';
  st.style.left = left + 'px'; st.style.top = top + 'px';
  st.style.width = PANEL_W + 'px'; st.style.height = STRIP_H + 'px';
  st.textContent = name;
  fig.appendChild(st);

  const padB = bottom ? 0 : PAD;
  const W = Y_W + PANEL_W, H = PAD + PANEL_H + (bottom ? X_H : padB);
  const cv = document.createElement('canvas');
  cv.width = W; cv.height = H;
  cv.style.left = (left - Y_W) + 'px'; cv.style.top = (top + STRIP_H - PAD) + 'px';
  cv.style.width = W + 'px'; cv.style.height = H + 'px';
  fig.appendChild(cv);

  const [ymin, ymax] = yLimits[p];
  const majors = yTicks[p];
  const step = majors[1] - majors[0];
  const labelFor = (v) => { for (let k = 0; k < majors.length; k++) if (Math.abs(majors[k] - v) < 1e-9) return yTickLabels[p][k]; return null; };
  const tickVals = [];
  if (majors[0] - step/2 >= ymin) tickVals.push(majors[0] - step/2);
  majors.forEach((m, k) => { tickVals.push(m); if (k < majors.length - 1) tickVals.push(m + step/2); });
  if (majors[majors.length-1] + step/2 <= ymax) tickVals.push(majors[majors.length-1] + step/2);

  const pts = [];
  outliers[p].forEach((arr, ci) => arr.forEach(v => pts.push({x: ci + 1, y: v})));

  new Chart(cv, {
    type: 'scatter',
    data: { datasets: [{ data: pts, pointRadius: 8.5, pointHoverRadius: 8.5, pointBorderWidth: 0, pointBackgroundColor: DARK, backgroundColor: DARK, borderColor: DARK, clip: false }] },
    options: {
      animation: false, responsive: false, maintainAspectRatio: false, devicePixelRatio: 1, events: [],
      layout: { padding: { top: PAD, bottom: padB, left: 0, right: 0 }, autoPadding: false },
      plugins: { legend: { display: false }, tooltip: { enabled: false }, title: { display: false }, panel: { index: p } },
      scales: {
        x: {
          type: 'linear', min: 0.4, max: 5.6,
          afterBuildTicks: (s) => { s.ticks = categories.map((_, k) => ({ value: k + 1 })); },
          grid: { color: '#FFFFFF', lineWidth: 4, drawTicks: bottom, tickLength: 10, tickColor: DARK, tickWidth: 3.5 },
          border: { display: false },
          ticks: {
            display: bottom, autoSkip: false, minRotation: 45, maxRotation: 45, padding: 0, labelOffset: 18,
            color: '#000000', font: { family: FONT, size: 32, weight: 'bold' },
            callback: (v) => categories[Math.round(v) - 1]
          },
          afterFit: (s) => { s.height = bottom ? X_H : 0; s.paddingLeft = 0; s.paddingRight = 0; }
        },
        y: {
          type: 'linear', min: ymin, max: ymax,
          afterBuildTicks: (s) => { s.ticks = tickVals.map(v => ({ value: v })); },
          grid: {
            color: '#FFFFFF',
            lineWidth: (ctx) => (ctx.tick && labelFor(ctx.tick.value) !== null) ? 4 : 2,
            tickColor: (ctx) => (ctx.tick && labelFor(ctx.tick.value) !== null) ? DARK : 'rgba(0,0,0,0)',
            tickLength: 10, tickWidth: 3.5, drawTicks: true
          },
          border: { display: false },
          ticks: {
            autoSkip: false, padding: 5, color: '#000000',
            font: { family: FONT, size: 32, weight: 'bold' },
            callback: (v) => { const l = labelFor(v); return l === null ? '' : l; }
          },
          afterFit: (s) => { s.width = Y_W; s.paddingTop = 0; s.paddingBottom = 0; }
        }
      }
    },
    plugins: [panelPlugin]
  });
});
</script>
</body></html>
